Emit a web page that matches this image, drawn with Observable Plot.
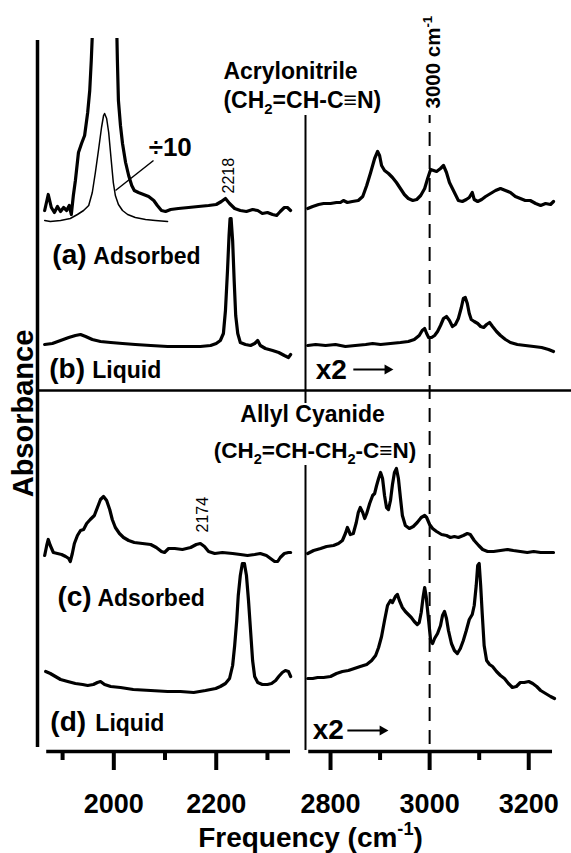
<!DOCTYPE html>
<html><head><meta charset="utf-8">
<script src="https://cdn.jsdelivr.net/npm/d3@7"></script>
<script src="https://cdn.jsdelivr.net/npm/@observablehq/plot@0.6"></script>
<style>
body{margin:0;background:#fff;}
#chart{width:571px;height:853px;}
</style></head><body><div id="chart"></div>
<script>
// ---- Spectra: [frequency (cm-1), absorbance (stacked, a.u.)] ----
const acrylAdsLow = [[1865,5.41],[1872,5.57],[1878,5.44],[1884,5.39],[1890,5.45],[1896,5.40],[1902,5.44],[1908,5.41],[1913,5.46],[1917,5.37],[1921,5.56],[1925,5.71],[1931,5.99],[1937,6.08],[1943,6.16],[1949,6.39],[1953,6.61],[1956,6.91],[1960,7.41],[1970,9.0],[1982,10.5],[1994,9.0],[2005,7.41],[2007,6.91],[2009,6.51],[2013,6.26],[2017,6.08],[2023,5.89],[2029,5.76],[2035,5.66],[2040,5.61],[2048,5.59],[2058,5.57],[2068,5.55],[2078,5.51],[2085,5.46],[2093,5.41],[2101,5.40],[2111,5.42],[2126,5.43],[2146,5.44],[2165,5.45],[2185,5.46],[2200,5.47],[2210,5.50],[2218,5.53],[2226,5.48],[2236,5.43],[2247,5.41],[2259,5.40],[2271,5.42],[2281,5.41],[2290,5.38],[2300,5.39],[2310,5.37],[2318,5.36],[2325,5.40],[2333,5.44],[2339,5.44],[2347,5.41]];
const acrylAdsLowDiv10 = [[1865,5.31],[1876,5.30],[1896,5.31],[1915,5.33],[1929,5.37],[1941,5.41],[1951,5.46],[1958,5.59],[1964,5.79],[1970,6.01],[1976,6.24],[1980,6.36],[1982,6.38],[1986,6.33],[1990,6.19],[1995,5.91],[1999,5.69],[2003,5.56],[2009,5.47],[2017,5.41],[2027,5.37],[2042,5.34],[2062,5.32],[2081,5.31],[2105,5.30]];
const acrylLiqLow = [[1865,4.07],[1880,4.08],[1896,4.11],[1912,4.14],[1925,4.16],[1935,4.17],[1945,4.15],[1958,4.12],[1974,4.10],[1994,4.09],[2017,4.08],[2042,4.07],[2072,4.06],[2105,4.05],[2140,4.05],[2169,4.05],[2189,4.06],[2200,4.08],[2208,4.11],[2214,4.18],[2218,4.41],[2222,4.81],[2225,5.16],[2227,5.33],[2229,5.33],[2232,5.11],[2235,4.71],[2238,4.36],[2242,4.18],[2247,4.09],[2257,4.07],[2267,4.06],[2275,4.08],[2281,4.11],[2286,4.06],[2296,4.03],[2310,4.01],[2322,3.99],[2333,3.96],[2341,3.94],[2349,3.97]];
const acrylAdsHigh = [[2754,5.43],[2764,5.45],[2776,5.47],[2786,5.48],[2800,5.48],[2812,5.49],[2820,5.49],[2826,5.51],[2834,5.49],[2844,5.50],[2856,5.51],[2865,5.55],[2873,5.66],[2881,5.79],[2889,5.93],[2895,6.00],[2899,5.96],[2903,5.86],[2909,5.81],[2917,5.78],[2925,5.74],[2933,5.69],[2941,5.63],[2949,5.57],[2957,5.53],[2966,5.51],[2974,5.52],[2982,5.56],[2990,5.63],[2996,5.73],[3002,5.82],[3008,5.81],[3014,5.80],[3022,5.83],[3028,5.86],[3034,5.79],[3040,5.69],[3046,5.63],[3052,5.57],[3058,5.51],[3066,5.50],[3074,5.52],[3080,5.54],[3086,5.59],[3090,5.52],[3097,5.50],[3105,5.52],[3113,5.55],[3123,5.58],[3133,5.61],[3143,5.63],[3153,5.61],[3163,5.59],[3173,5.55],[3183,5.53],[3193,5.51],[3203,5.51],[3214,5.48],[3224,5.46],[3234,5.48],[3244,5.47],[3250,5.50]];
const acrylLiqHigh = [[2754,4.06],[2770,4.07],[2790,4.06],[2810,4.07],[2830,4.05],[2850,4.06],[2871,4.07],[2885,4.08],[2901,4.07],[2921,4.08],[2941,4.09],[2957,4.10],[2969,4.12],[2979,4.16],[2985,4.21],[2990,4.23],[2994,4.18],[2998,4.14],[3004,4.14],[3010,4.16],[3016,4.20],[3022,4.26],[3028,4.33],[3034,4.35],[3040,4.31],[3046,4.25],[3052,4.27],[3058,4.33],[3064,4.44],[3068,4.53],[3072,4.54],[3076,4.48],[3080,4.38],[3084,4.32],[3090,4.30],[3097,4.28],[3103,4.25],[3109,4.24],[3115,4.27],[3121,4.29],[3127,4.25],[3135,4.20],[3143,4.16],[3153,4.12],[3163,4.09],[3177,4.07],[3193,4.06],[3210,4.05],[3226,4.04],[3240,4.02],[3250,4.00]];
const allylAdsLow = [[1865,1.96],[1869,2.06],[1872,2.12],[1876,2.06],[1882,1.99],[1890,1.98],[1898,1.97],[1906,1.95],[1912,1.93],[1915,1.90],[1919,1.98],[1923,2.08],[1929,2.16],[1935,2.21],[1941,2.22],[1947,2.28],[1954,2.32],[1962,2.36],[1968,2.44],[1974,2.52],[1980,2.55],[1986,2.51],[1992,2.42],[1997,2.32],[2003,2.24],[2011,2.18],[2019,2.14],[2029,2.11],[2040,2.09],[2056,2.08],[2072,2.07],[2083,2.04],[2093,2.00],[2099,1.99],[2107,2.03],[2119,2.03],[2134,2.02],[2150,2.04],[2161,2.07],[2169,2.08],[2177,2.05],[2185,2.00],[2197,1.98],[2212,1.99],[2232,1.98],[2247,1.97],[2261,1.96],[2275,1.97],[2286,1.98],[2298,1.96],[2306,1.93],[2314,1.90],[2320,1.90],[2325,1.94],[2333,1.98],[2341,1.99],[2349,1.99]];
const allylLiqLow = [[1867,0.80],[1876,0.78],[1886,0.75],[1896,0.72],[1910,0.70],[1925,0.68],[1939,0.67],[1949,0.66],[1960,0.67],[1968,0.69],[1974,0.70],[1982,0.67],[1994,0.65],[2013,0.64],[2038,0.62],[2072,0.61],[2105,0.60],[2130,0.60],[2156,0.59],[2179,0.61],[2199,0.63],[2208,0.65],[2218,0.68],[2226,0.73],[2232,0.86],[2236,1.06],[2240,1.31],[2243,1.56],[2247,1.76],[2251,1.88],[2255,1.88],[2259,1.76],[2263,1.51],[2267,1.21],[2271,0.91],[2275,0.75],[2281,0.69],[2290,0.67],[2300,0.67],[2308,0.68],[2316,0.71],[2322,0.75],[2329,0.79],[2335,0.81],[2341,0.80],[2349,0.75]];
const allylAdsHigh = [[2754,1.98],[2766,2.01],[2780,2.03],[2792,2.05],[2806,2.06],[2816,2.08],[2824,2.11],[2830,2.18],[2834,2.24],[2840,2.17],[2846,2.18],[2852,2.29],[2856,2.39],[2860,2.44],[2865,2.39],[2869,2.33],[2873,2.38],[2879,2.48],[2885,2.56],[2889,2.58],[2893,2.66],[2897,2.73],[2901,2.79],[2905,2.73],[2909,2.56],[2913,2.44],[2917,2.42],[2921,2.51],[2925,2.67],[2929,2.79],[2933,2.83],[2937,2.73],[2941,2.54],[2945,2.36],[2951,2.26],[2959,2.23],[2967,2.25],[2975,2.29],[2983,2.34],[2990,2.36],[2994,2.34],[3000,2.27],[3006,2.23],[3014,2.20],[3024,2.17],[3034,2.16],[3042,2.14],[3050,2.15],[3058,2.14],[3068,2.16],[3076,2.18],[3082,2.17],[3090,2.11],[3099,2.06],[3107,2.02],[3117,2.00],[3129,2.00],[3143,2.01],[3157,2.02],[3169,2.01],[3183,2.00],[3197,1.99],[3210,2.00],[3224,1.99],[3236,1.99],[3250,1.99]];
const allylLiqHigh = [[2754,0.73],[2764,0.73],[2774,0.74],[2786,0.74],[2800,0.75],[2812,0.78],[2824,0.80],[2836,0.81],[2848,0.83],[2860,0.85],[2873,0.87],[2883,0.91],[2891,0.96],[2897,1.04],[2903,1.15],[2909,1.31],[2915,1.46],[2921,1.51],[2925,1.49],[2931,1.55],[2935,1.57],[2939,1.51],[2945,1.44],[2951,1.40],[2957,1.37],[2963,1.34],[2969,1.30],[2975,1.27],[2979,1.29],[2983,1.39],[2987,1.55],[2990,1.64],[2993,1.55],[2998,1.31],[3002,1.11],[3006,1.08],[3010,1.13],[3016,1.18],[3022,1.26],[3026,1.36],[3030,1.40],[3034,1.33],[3038,1.21],[3044,1.08],[3050,1.01],[3056,0.98],[3062,1.03],[3068,1.11],[3074,1.21],[3080,1.32],[3086,1.37],[3090,1.46],[3094,1.66],[3097,1.86],[3100,1.88],[3103,1.66],[3106,1.39],[3110,1.06],[3115,0.91],[3121,0.87],[3127,0.85],[3135,0.80],[3143,0.76],[3151,0.73],[3159,0.68],[3167,0.64],[3175,0.65],[3183,0.69],[3191,0.69],[3200,0.70],[3208,0.68],[3216,0.65],[3224,0.61],[3234,0.58],[3244,0.55],[3252,0.53]];

// ---- Axes ----
const majorTicks = [2000, 2200, 2800, 3000, 3200];
const minorTicks = [1900, 2100, 2300, 2900, 3100];
const lowPanel = [1869, 2345];
const highPanel = [2756, 3248];
const markerFreq = 3000;

const FONT = "'Liberation Sans', Arial, Helvetica, sans-serif";
const rows = (arr, series) => arr.map(([f, a]) => ({f, a, series}));
const thick = [
  ...rows(acrylAdsLow, "a-low"), ...rows(acrylLiqLow, "b-low"),
  ...rows(acrylAdsHigh, "a-high"), ...rows(acrylLiqHigh, "b-high"),
  ...rows(allylAdsLow, "c-low"), ...rows(allylLiqLow, "d-low"),
  ...rows(allylAdsHigh, "c-high"), ...rows(allylLiqHigh, "d-high")
];
const thin = rows(acrylAdsLowDiv10, "a-div10");

const plot = Plot.plot({
  width: 571, height: 853,
  marginTop: 38, marginBottom: 102, marginLeft: 37, marginRight: 0,
  style: {fontFamily: FONT, fontWeight: "bold", background: "#fff", color: "#000", overflow: "visible"},
  x: {type: "linear", domain: [1851, 2345, 2749.5, 3286.3], range: [37, 290, 305, 571], label: null},
  y: {domain: [0, 7.13], axis: null, label: null},
  marks: [
    // frame lines
    Plot.ruleX([1851], {y1: 0.04, y2: 7.11, strokeWidth: 3.5}),
    Plot.ruleX([{y1: 3.48, y2: 6.36}, {y1: 0.01, y2: 2.86}], {x: () => 2749.5, y1: "y1", y2: "y2", strokeWidth: 2}),
    Plot.ruleY([3.61], {x1: 1851, x2: 3286.3, strokeWidth: 2.5}),
    Plot.ruleY([0], {x1: lowPanel[0], x2: lowPanel[1], strokeWidth: 3.5}),
    Plot.ruleY([0], {x1: highPanel[0], x2: highPanel[1], strokeWidth: 3.5}),
    Plot.ruleX([markerFreq], {y1: -0.16, y2: 6.36, strokeWidth: 2, strokeDasharray: "14,9"}),
    Plot.axisX({ticks: majorTicks, tickSize: 19, tickPadding: 23, strokeWidth: 4, fontSize: 27, tickFormat: "d", label: null}),
    Plot.axisX({ticks: minorTicks, tickSize: 9, strokeWidth: 4, tickFormat: () => "", label: null}),
    // spectra
    Plot.line(thick, {x: "f", y: "a", z: "series", strokeWidth: 3.2, strokeLinejoin: "round", clip: true}),
    Plot.line(thin, {x: "f", y: "a", z: "series", strokeWidth: 1.5, strokeLinejoin: "round", clip: true}),
    Plot.link([{x1: 2077.5, y1: 5.91, x2: 2003.3, y2: 5.61}], {x1: "x1", y1: "y1", x2: "x2", y2: "y2", strokeWidth: 1.5}),
    // arrows x2
    Plot.link([{x1: 2846, x2: 2915, y: 3.82}, {x1: 2834, x2: 2905, y: 0.21}], {x1: "x1", x2: "x2", y1: "y", y2: "y", strokeWidth: 2}),
    Plot.dot([{x: 2915, y: 3.82}, {x: 2905, y: 0.21}], {x: "x", y: "y", symbol: "triangle", rotate: 90, r: 3.8, fill: "black", stroke: "none"}),
    // titles
    Plot.text(["Acrylonitrile"], {x: 2214, y: 6.73, text: d => d, textAnchor: "start", lineAnchor: "bottom", fontSize: 23}),
    Plot.text(["(CH_{2}=CH-C≡N)"], {x: 2214, y: 6.44, text: d => d, textAnchor: "start", lineAnchor: "bottom", fontSize: 23}),
    Plot.text(["Allyl Cyanide"], {x: 2247, y: 3.30, text: d => d, textAnchor: "start", lineAnchor: "bottom", fontSize: 23}),
    Plot.text(["(CH_{2}=CH-CH_{2}-C≡N)"], {x: 2195, y: 2.94, text: d => d, textAnchor: "start", lineAnchor: "bottom", fontSize: 22.5}),
    Plot.text(["3000 cm^{-1}"], {x: 3008, y: 6.43, text: d => d, rotate: -90, textAnchor: "start", lineAnchor: "middle", fontSize: 20.5}),
    Plot.text(["÷10"], {x: 2068, y: 5.96, text: d => d, textAnchor: "start", lineAnchor: "bottom", fontSize: 26}),
    Plot.text(["2218"], {x: 2225, y: 5.58, text: d => d, rotate: -90, textAnchor: "start", lineAnchor: "middle", fontSize: 16, fontWeight: "normal"}),
    Plot.text(["2174"], {x: 2174, y: 2.19, text: d => d, rotate: -90, textAnchor: "start", lineAnchor: "middle", fontSize: 16, fontWeight: "normal"}),
    // spectrum labels
    Plot.text([{t: "(a)", f: 1880, a: 4.88}, {t: "(b)", f: 1874, a: 3.74}, {t: "(c)", f: 1890, a: 1.46}, {t: "(d)", f: 1876, a: 0.21}],
      {x: "f", y: "a", text: "t", textAnchor: "start", lineAnchor: "bottom", fontSize: 28}),
    Plot.text([{t: "Adsorbed", f: 1960, a: 4.88}, {t: "Liquid", f: 1958, a: 3.74}, {t: "Adsorbed", f: 1968, a: 1.46}, {t: "Liquid", f: 1964, a: 0.21}],
      {x: "f", y: "a", text: "t", textAnchor: "start", lineAnchor: "bottom", fontSize: 23}),
    Plot.text([{t: "x2", f: 2770, a: 3.73}, {t: "x2", f: 2764, a: 0.13}],
      {x: "f", y: "a", text: "t", textAnchor: "start", lineAnchor: "bottom", fontSize: 28}),
    // axis titles
    Plot.text(["Absorbance"], {x: 1823.7, y: 3.38, text: d => d, rotate: -90, textAnchor: "middle", lineAnchor: "middle", fontSize: 29}),
    Plot.text(["Frequency (cm^{-1})"], {x: 2759.6, y: -0.95, text: d => d, textAnchor: "middle", lineAnchor: "bottom", fontSize: 28})
  ]
});
document.getElementById("chart").appendChild(plot);

// rich text: _{..} subscript, ^{..} superscript
d3.select(plot).selectAll("text").each(function() {
  const el = this;
  if (el.querySelector("tspan")) return;
  const s = el.textContent;
  if (!/[_^]\{/.test(s)) return;
  const fs = parseFloat(getComputedStyle(el).fontSize) || 16;
  el.textContent = "";
  const re = /([_^])\{([^}]*)\}/g;
  let last = 0, m, pendingDy = 0;
  const add = (txt, opts) => {
    const t = document.createElementNS("http://www.w3.org/2000/svg", "tspan");
    t.textContent = txt;
    if (opts.dy) t.setAttribute("dy", opts.dy);
    if (opts.size) t.setAttribute("font-size", opts.size);
    el.appendChild(t);
  };
  while ((m = re.exec(s))) {
    if (m.index > last) { add(s.slice(last, m.index), {dy: pendingDy}); pendingDy = 0; }
    const shift = m[1] === "_" ? 0.28 * fs : -0.42 * fs;
    add(m[2], {dy: pendingDy + shift, size: 0.65 * fs});
    pendingDy = -shift;
    last = re.lastIndex;
  }
  if (last < s.length) add(s.slice(last), {dy: pendingDy});
});
</script></body></html>
